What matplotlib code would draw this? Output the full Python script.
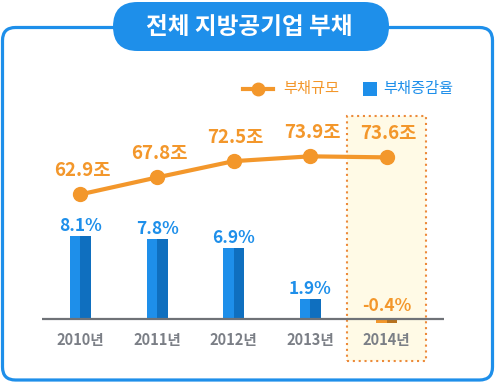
import numpy as np
import matplotlib.pyplot as plt
from matplotlib.patches import FancyBboxPatch, Rectangle
from matplotlib.lines import Line2D

plt.rcParams['font.family'] = ['Noto Sans CJK KR', 'DejaVu Sans']

years = ['2010년', '2011년', '2012년', '2013년', '2014년']
debt = [62.9, 67.8, 72.5, 73.9, 73.6]       # 부채규모 (조)
rate = [8.1, 7.8, 6.9, 1.9, -0.4]           # 부채증감율 (%)

blue = '#1e8fea'
blue_dk = '#0f6fbf'
orange = '#f3972b'
orange_dk = '#b8721f'
gray = '#7b7f86'

W, H = 498, 384
fig = plt.figure(figsize=(W / 100, H / 100), dpi=100)

def fx(px):
    return px / W

def fy(py):
    return 1 - py / H

# outer frame + title pill (inches, so corners stay round)
frame = FancyBboxPatch((0.025, 0.04), 4.90, 3.525,
                       boxstyle='round,pad=0,rounding_size=0.13',
                       transform=fig.dpi_scale_trans, fc='none', ec=blue, lw=2.3, zorder=0)
fig.patches.append(frame)
pill = FancyBboxPatch((1.13, 3.33), 2.76, 0.49,
                      boxstyle='round,pad=0,rounding_size=0.245',
                      transform=fig.dpi_scale_trans, fc=blue, ec='none', zorder=2)
fig.patches.append(pill)
fig.text(fx(249), fy(27), '전체 지방공기업 부채', color='white', fontsize=17,
         fontweight='bold', ha='center', va='center', zorder=3)

pos = [fx(42), fy(360), (444 - 42) / W, 250 / H]
ax = fig.add_axes(pos)
ax2 = ax.twinx()
ax.set_position(pos)
ax2.set_position(pos)

x = np.arange(len(years))
ax.set_xlim(-0.503, 4.75)
ax.set_ylim(-3.98, 20.29)
ax2.set_xlim(-0.503, 4.75)
ax2.set_ylim(15.0, 87.3)
ax.axis('off')
ax2.axis('off')

# 2014 highlight box
ax.add_patch(Rectangle((3.48, -4.1), 1.04, 23.8, fc='#fffae6', ec='none', zorder=0.5, clip_on=False))
ax.add_patch(Rectangle((3.48, -4.1), 1.04, 23.8, fc='none', ec='#ec8a3a', lw=1.5,
                       ls=(0, (1, 1.8)), zorder=0.6, clip_on=False))

# bars, two-tone
w = 0.137
left_c = [blue] * 4 + [orange]
right_c = [blue_dk] * 4 + [orange_dk]
ax.bar(x - w / 2, rate, width=w, color=left_c, zorder=2)
ax.bar(x + w / 2, rate, width=w, color=right_c, zorder=2)
ax.axhline(0, xmin=0, xmax=1, color='#6f7277', lw=1.6, zorder=3)

for i, v in enumerate(rate):
    c = blue if v > 0 else orange
    ax.annotate(f'{v}%', (x[i], max(v, 0)), xytext=(0, 5 if v > 0 else 8),
                textcoords='offset pixels', ha='center', va='baseline',
                color=c, fontsize=12.5, fontweight='bold', zorder=4)
    ax.annotate(years[i], (x[i], 0), xytext=(0, -13), textcoords='offset pixels',
                ha='center', va='top', color=gray, fontsize=10.5, fontweight='bold')

# line
ax2.plot(x, debt, color=orange, lw=3, marker='o', ms=10, zorder=5)
for i, v in enumerate(debt):
    ax2.annotate(f'{v}조', (x[i], v), xytext=(2, 18), textcoords='offset pixels',
                 ha='center', va='baseline', color=orange, fontsize=13.5, fontweight='bold')

# legend
fig.lines.append(Line2D([fx(243), fx(273)], [fy(89), fy(89)], transform=fig.transFigure,
                        color=orange, lw=3, zorder=5))
fig.lines.append(Line2D([fx(258)], [fy(89)], transform=fig.transFigure, color=orange,
                        marker='o', ms=9, zorder=5))
fig.text(fx(283), fy(89), '부채규모', color=orange, fontsize=11, ha='left', va='center')
fig.patches.append(Rectangle((fx(363), fy(96)), 14 / W, 14 / H, transform=fig.transFigure,
                             fc=blue, ec='none', zorder=5))
fig.text(fx(383), fy(89), '부채증감율', color=blue, fontsize=11, ha='left', va='center')

fig.savefig('out.png', dpi=100)
